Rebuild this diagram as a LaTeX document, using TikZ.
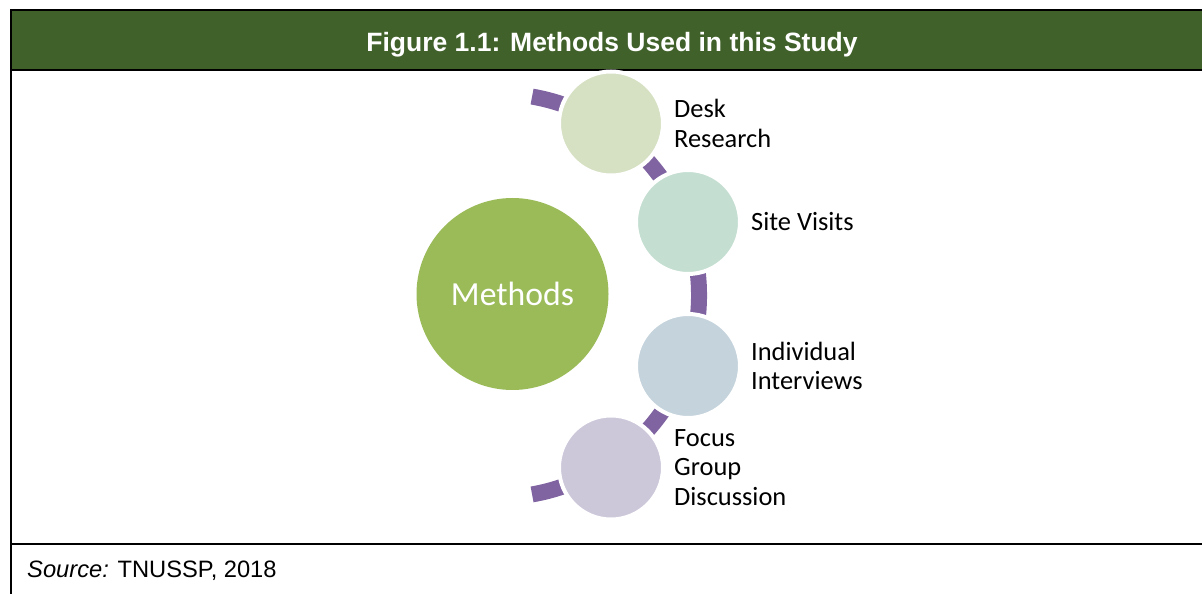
\documentclass[tikz,border=0pt]{standalone}
\usepackage{fontspec}
\setmainfont{Carlito}
\newfontfamily\arialfont{Liberation Sans}
\usetikzlibrary{positioning}
\definecolor{headgreen}{HTML}{41612A}
\definecolor{methgreen}{HTML}{9BBB59}
\definecolor{deskc}{HTML}{D6E1C3}
\definecolor{sitec}{HTML}{C4DFD1}
\definecolor{intc}{HTML}{C5D3DC}
\definecolor{focusc}{HTML}{CDC7DA}
\definecolor{arcpurple}{HTML}{8064A2}
\begin{document}
\begin{tikzpicture}[x=1pt,y=1pt]
    \tikzstyle{bub}=[circle, inner sep=0pt, outer sep=0pt, minimum size=104pt, draw=white, line width=4pt]
    \tikzstyle{lbl}=[inner sep=0pt, align=left, anchor=west, font=\fontsize{26.4}{29.5}\selectfont]
    \tikzstyle{rule}=[line width=2pt]
    \useasboundingbox (0,0) rectangle (1202,594);
    % frame and header band
    \fill[headgreen] (11,524) rectangle (1202,584);
    \draw[rule] (1202,584) -- (11,584) -- (11,0);
    \draw[rule] (11,524) -- (1202,524);
    \draw[rule] (11,50) -- (1202,50);
    \node[text=white, anchor=base, font=\arialfont\bfseries\fontsize{26.5}{30}\selectfont] (title) at (612,542.5) {Figure 1.1: Methods Used in this Study};
    \node[anchor=base west, inner sep=0pt, font=\arialfont\fontsize{23.7}{28}\selectfont] (src) at (27,16) {{\itshape Source:} TNUSSP, 2018};
    % purple arc behind the bubbles
    \draw[arcpurple, line width=16pt] (497,298.5) ++(80:202) arc[start angle=80, end angle=-80, radius=202];
    \node[circle, fill=methgreen, minimum size=192pt, inner sep=0pt, text=white, font=\fontsize{33.7}{40}\selectfont] (meth) at (512.5,300) {Methods};
    \node[bub, fill=deskc] (desk) at (611,470.5) {};
    \node[bub, fill=sitec] (site) at (688,372) {};
    \node[bub, fill=intc] (intv) at (688,228) {};
    \node[bub, fill=focusc] (focus) at (611,126.5) {};
    \node[lbl, right=11pt of desk] (desklbl) {Desk\\Research};
    \node[lbl, right=11pt of site] (sitelbl) {Site Visits};
    \node[lbl, right=11pt of intv] (intvlbl) {Individual\\Interviews};
    \node[lbl, right=11pt of focus] (focuslbl) {Focus\\Group\\Discussion};
\end{tikzpicture}
\end{document}
